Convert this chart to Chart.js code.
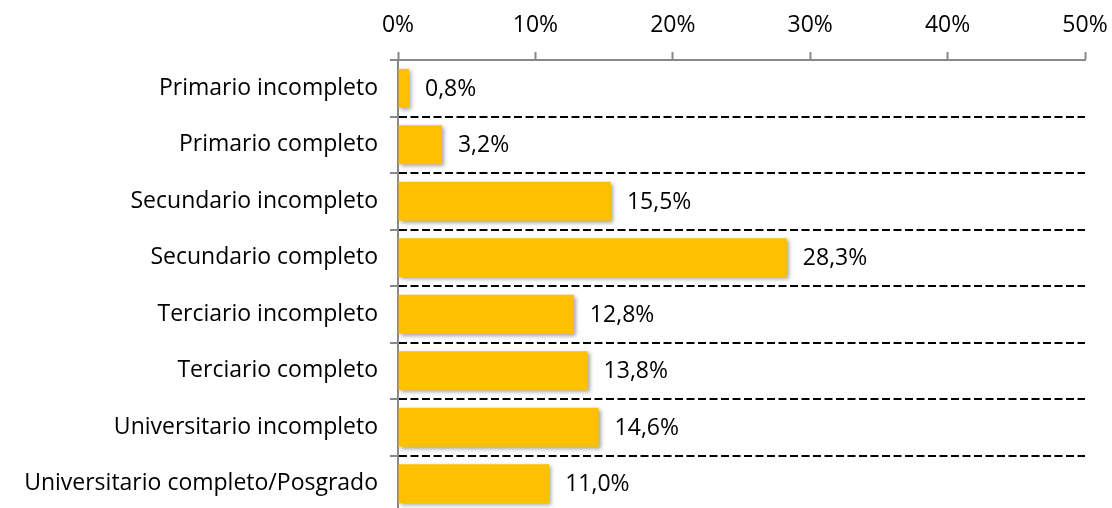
<!DOCTYPE html>
<html>
<head>
<meta charset="utf-8">
<script src="https://cdn.jsdelivr.net/npm/chart.js@4.4.1/dist/chart.umd.min.js"></script>
<style>
  html, body { margin: 0; padding: 0; background: #fff; overflow: hidden; }
  #wrap { position: relative; width: 1112px; height: 512px; }
</style>
</head>
<body>
<div id="wrap"><canvas id="c"></canvas></div>
<script>
const categories = [
  "Primario incompleto",
  "Primario completo",
  "Secundario incompleto",
  "Secundario completo",
  "Terciario incompleto",
  "Terciario completo",
  "Universitario incompleto",
  "Universitario completo/Posgrado"
];
const values = [0.8, 3.2, 15.5, 28.3, 12.8, 13.8, 14.6, 11.0];
const tickValues = [0, 10, 20, 30, 40, 50];

const FONT = "'Open Sans'";
const FONT_SIZE = 23;

const shadowPlugin = {
  id: 'barShadow',
  beforeDatasetsDraw(chart) {
    const ctx = chart.ctx;
    ctx.save();
    ctx.shadowColor = 'rgba(0,0,0,0.35)';
    ctx.shadowBlur = 4;
    ctx.shadowOffsetX = 2;
    ctx.shadowOffsetY = 2;
  },
  afterDatasetsDraw(chart) {
    chart.ctx.restore();
  }
};

const labelPlugin = {
  id: 'valueLabels',
  afterDatasetsDraw(chart) {
    const ctx = chart.ctx;
    const meta = chart.getDatasetMeta(0);
    ctx.save();
    ctx.font = FONT_SIZE + 'px ' + FONT;
    ctx.fillStyle = '#000';
    ctx.textAlign = 'left';
    ctx.textBaseline = 'middle';
    meta.data.forEach((bar, i) => {
      const txt = values[i].toFixed(1).replace('.', ',') + '%';
      ctx.fillText(txt, bar.x + 16, bar.y + 1);
    });
    ctx.restore();
  }
};

new Chart(document.getElementById('c'), {
  type: 'bar',
  data: {
    labels: categories,
    datasets: [{
      data: values,
      backgroundColor: '#FFC000',
      borderWidth: 0,
      categoryPercentage: 1,
      barPercentage: 0.69
    }]
  },
  plugins: [shadowPlugin, labelPlugin],
  options: {
    indexAxis: 'y',
    responsive: true,
    maintainAspectRatio: false,
    animation: false,
    layout: { padding: { left: 0, right: 27, top: 0, bottom: 0 } },
    plugins: { legend: { display: false }, tooltip: { enabled: false } },
    scales: {
      x: {
        position: 'top',
        min: 0,
        max: 50,
        afterBuildTicks(scale) { scale.ticks = tickValues.map(v => ({ value: v })); },
        afterFit(scale) {
          scale.height = 60;
          scale.paddingLeft = 0; scale.paddingRight = 0;
          scale.paddingTop = 0; scale.paddingBottom = 0;
        },
        ticks: {
          callback: v => v + '%',
          color: '#000',
          font: { family: FONT, size: FONT_SIZE },
          padding: 13,
          maxRotation: 0
        },
        grid: {
          drawOnChartArea: false,
          drawTicks: true,
          tickLength: 8,
          tickColor: '#888888',
          tickWidth: 2
        },
        border: { display: true, color: '#888888', width: 2 }
      },
      y: {
        afterFit(scale) {
          scale.width = 398;
          scale.paddingLeft = 0; scale.paddingRight = 0;
          scale.paddingTop = 0; scale.paddingBottom = 0;
        },
        ticks: {
          color: '#000',
          font: { family: FONT, size: FONT_SIZE },
          padding: 12
        },
        grid: {
          offset: true,
          drawOnChartArea: true,
          color: ctx => (ctx.index === 0 ? 'rgba(0,0,0,0)' : '#000'),
          lineWidth: 2,
          tickLength: 8,
          tickColor: '#888888',
          tickWidth: 2,
          tickBorderDash: []
        },
        border: { display: true, color: '#888888', width: 2, dash: [8, 3.5] }
      }
    }
  }
});
</script>
</body>
</html>
